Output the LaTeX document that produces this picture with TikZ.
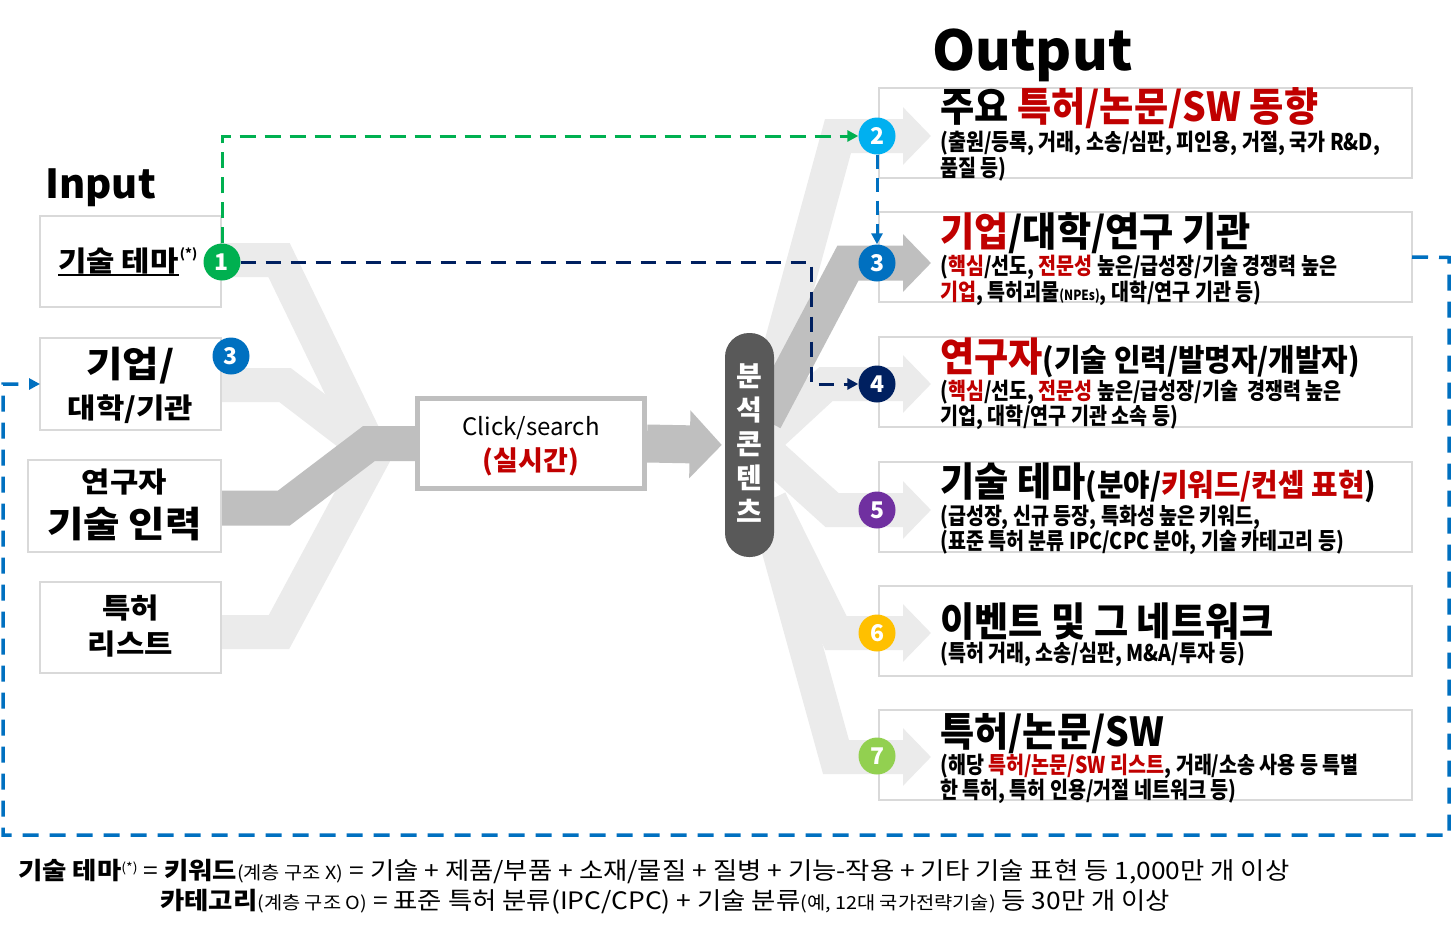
\documentclass[tikz,border=0pt]{standalone}
\usepackage{fontspec}
\setmainfont{Noto Sans CJK KR}
\newfontfamily\condf[FakeStretch=0.85]{Noto Sans CJK KR}
\newfontfamily\hdf[FakeStretch=0.93]{Noto Sans CJK KR}
\newfontfamily\widef[FakeStretch=1.1]{Noto Sans CJK KR}
\newfontfamily\botf[FakeStretch=1.1]{Noto Sans CJK KR}
\usetikzlibrary{arrows.meta}
\definecolor{kred}{HTML}{C00000}
\definecolor{bandL}{HTML}{EBEBEB}
\definecolor{bandD}{HTML}{BFBFBF}
\definecolor{boxG}{HTML}{D9D9D9}
\definecolor{pillG}{HTML}{595959}
\definecolor{cGreen}{HTML}{00B050}
\definecolor{cBlue}{HTML}{0070C0}
\definecolor{cSky}{HTML}{00B0F0}
\definecolor{cNavy}{HTML}{002060}
\definecolor{cPurple}{HTML}{7030A0}
\definecolor{cGold}{HTML}{FFC000}
\definecolor{cLime}{HTML}{92D050}
\begin{document}
\begin{tikzpicture}[x=1pt,y=-1pt,
  boxA/.style={draw=boxG, line width=1.3pt, fill=white, anchor=north west, inner sep=0pt, outer sep=0pt},
  obox/.style={boxA, minimum width=533pt, minimum height=90pt},
  lband/.style={draw=bandL, line width=34pt},
  dband/.style={draw=bandD, line width=35pt},
  ltip/.style={-{Triangle[length=28pt,width=56pt]}},
  num/.style={circle, fill=#1, text=white, minimum size=37pt, inner sep=0pt, font=\bfseries\fontsize{23}{23}\selectfont},
  ttl/.style={anchor=base west, inner sep=0pt, font=\bfseries\fontsize{40}{44}\selectfont},
  intext/.style={anchor=base, inner sep=0pt, font=\widef\bfseries\fontsize{28}{32}\selectfont},
  inbig/.style={anchor=base, inner sep=0pt, font=\widef\bfseries\fontsize{36}{40}\selectfont},
  hd/.style={anchor=base west, inner sep=0pt, font=\hdf\bfseries\fontsize{40}{44}\selectfont},
  sb/.style={anchor=base west, inner sep=0pt, font=\condf\bfseries\fontsize{23}{26}\selectfont},
  bot/.style={anchor=base west, inner sep=0pt, font=\botf\fontsize{24}{28}\selectfont},
  dsh/.style={line width=3pt, -{Triangle[length=11pt,width=11pt]}},
]
\useasboundingbox (0,0) rectangle (1452,935);
\fill[white] (0,0) rectangle (1452,935);

% titles
\node[ttl] (tin) at (45,198) {Input};
\node[ttl, font=\bfseries\fontsize{55}{58}\selectfont] (tout) at (932,70) {Output};

% output boxes
\node[obox] (ob2) at (879,88) {};
\node[obox] (ob3) at (879,212) {};
\node[obox] (ob4) at (879,337) {};
\node[obox] (ob5) at (879,462) {};
\node[obox] (ob6) at (879,586) {};
\node[obox] (ob7) at (879,710) {};

% left bands
\draw[lband] (221,260) -- (279,260) -- (372,452);
\draw[lband] (221,385) -- (285,385) -- (370,450);
\draw[lband] (221,632) -- (279,632) -- (380,444);
\draw[dband] (221,508) -- (284,508) -- (369,443.5) -- (420,443.5);

% right bands
\draw[lband, ltip] (770,385) -- (838,136) -- (931,136);
\draw[lband, ltip] (760,445) -- (826,384) -- (931,384);
\draw[lband, ltip] (760,445) -- (832,510) -- (931,510);
\draw[lband, ltip] (770,500) -- (836,633) -- (931,633);
\draw[lband, ltip] (765,500) -- (836,757) -- (931,757);
\draw[dband, ltip] (765,420) -- (848,263) -- (931,263);

% input boxes
\node[boxA, minimum width=181pt, minimum height=91pt] (in1) at (40,216) {};
\node[boxA, minimum width=181pt, minimum height=92pt] (in2) at (40,338) {};
\node[boxA, minimum width=193pt, minimum height=92pt] (in3) at (28,460) {};
\node[boxA, minimum width=181pt, minimum height=91pt] (in4) at (40,582) {};

% click box and pill
\node[draw=bandD, line width=5pt, fill=white, minimum width=227pt, minimum height=90pt, inner sep=0pt] (click) at (531,443.5) {};
\node[fill=pillG, rounded corners=24pt, minimum width=49pt, minimum height=224pt, inner sep=0pt] (pill) at (749.5,445) {};
\draw[bandD, line width=38pt, -{Triangle[length=32pt,width=66pt]}, shorten >=3pt] (click.east) -- (pill.west);

% markers and dashed connectors
\coordinate (nv) at (811,262);
\coordinate (lpA) at (1449,257.5);
\coordinate (lpB) at (3,835);
\node[num=cGreen] (c1) at (222,262) {1};
\node[num=cBlue] (i3) at (231,356) {3};
\node[num=cSky] (o2) at (877,136) {2};
\node[num=cBlue] (o3) at (877,263) {3};
\node[num=cNavy] (o4) at (877,384) {4};
\node[num=cPurple] (o5) at (877,510) {5};
\node[num=cGold] (o6) at (877,633) {6};
\node[num=cLime] (o7) at (877,756) {7};
\draw[dsh, cGreen, dash pattern=on 16pt off 9pt] (c1.north) |- (o2.west);
\draw[dsh, cNavy, dash pattern=on 15pt off 10pt] (c1.east) -- (nv) |- (o4.west);
\draw[dsh, cBlue, dash pattern=on 14pt off 9pt] (o2.south) -- (o3.north);
\draw[dsh, cBlue, line width=3.5pt, dash pattern=on 16pt off 11pt] (ob3.east) -- (lpA) |- (lpB) |- (in2.west);

% input texts
\node[anchor=base west, inner sep=0pt, font=\widef\bfseries\fontsize{28}{32}\selectfont] (t1) at (58,271) {기술 테마};
\draw[line width=1.6pt] ([yshift=-4pt]t1.base west) -- ([yshift=-4pt]t1.base east);
\node[anchor=base west, inner sep=0pt, font=\bfseries\fontsize{13}{14}\selectfont] (t1s) at ([xshift=1pt, yshift=13pt]t1.base east) {(*)};
\node[inbig] (t2a) at (130.5,377) {기업/};
\node[intext] (t2b) at (130.5,418) {대학/기관};
\node[intext] (t3a) at (124.5,492) {연구자};
\node[inbig] (t3b) at (124.5,537) {기술 인력};
\node[intext] (t4a) at (130.5,618) {특허};
\node[intext] (t4b) at (130.5,654) {리스트};

% click and pill texts
\node[anchor=base, inner sep=0pt, font=\fontsize{24}{28}\selectfont] (ck1) at (531,435) {Click/search};
\node[anchor=base, inner sep=0pt, text=kred, font=\bfseries\fontsize{27}{30}\selectfont] (ck2) at (531,470) {(실시간)};
\node[text=white, font=\bfseries\fontsize{28}{34}\selectfont, align=center, inner sep=0pt] (pillt) at (749.5,443) {분\\석\\콘\\텐\\츠};

% output texts
\node[hd] (h2) at (940,121) {주요 \textcolor{kred}{특허/논문/SW 동향}};
\node[sb] (s2a) at (940,150) {(출원/등록, 거래, 소송/심판, 피인용, 거절, 국가 R\&D,};
\node[sb] (s2b) at (940,176) {품질 등)};

\node[hd] (h3) at (940,246) {\textcolor{kred}{기업}/대학/연구 기관};
\node[sb] (s3a) at (940,274) {(\textcolor{kred}{핵심}/선도, \textcolor{kred}{전문성} 높은/급성장/기술 경쟁력 높은};
\node[sb] (s3b) at (940,300) {\textcolor{kred}{기업}, 특허괴물{\fontsize{14}{16}\selectfont(NPEs)}, 대학/연구 기관 등)};

\node[hd] (h4) at (940,371) {\textcolor{kred}{연구자}{\fontsize{31}{34}\selectfont(기술 인력/발명자/개발자)}};
\node[sb] (s4a) at (940,399) {(\textcolor{kred}{핵심}/선도, \textcolor{kred}{전문성} 높은/급성장/기술\ \ 경쟁력 높은};
\node[sb] (s4b) at (940,424) {기업, 대학/연구 기관 소속 등)};

\node[hd] (h5) at (940,496) {기술 테마{\fontsize{31}{34}\selectfont(분야/\textcolor{kred}{키워드/컨셉 표현})}};
\node[sb] (s5a) at (940,524) {(급성장, 신규 등장, 특화성 높은 키워드,};
\node[sb] (s5b) at (940,549) {(표준 특허 분류 IPC/CPC 분야, 기술 카테고리 등)};

\node[hd] (h6) at (940,636) {이벤트 및 그 네트워크};
\node[sb] (s6a) at (940,661) {(특허 거래, 소송/심판, M\&A/투자 등)};

\node[hd] (h7) at (940,746) {특허/논문/SW};
\node[sb] (s7a) at (940,773) {(해당 \textcolor{kred}{특허/논문/SW 리스트}, 거래/소송 사용 등 특별};
\node[sb] (s7b) at (940,798) {한 특허, 특허 인용/거절 네트워크 등)};

% bottom notes
\node[bot] (n1) at (18,879) {{\bfseries 기술 테마}\raisebox{7pt}{\fontsize{13}{13}\selectfont(*)} = {\bfseries 키워드}{\fontsize{18}{20}\selectfont(계층 구조 X)} = 기술 + 제품/부품 + 소재/물질 + 질병 + 기능-작용 + 기타 기술 표현 등 1,000만 개 이상};
\node[bot] (n2) at (160,909) {{\bfseries 카테고리}{\fontsize{18}{20}\selectfont(계층 구조 O)} = 표준 특허 분류(IPC/CPC) + 기술 분류{\fontsize{18}{20}\selectfont(예, 12대 국가전략기술)} 등 30만 개 이상};
\end{tikzpicture}
\end{document}
